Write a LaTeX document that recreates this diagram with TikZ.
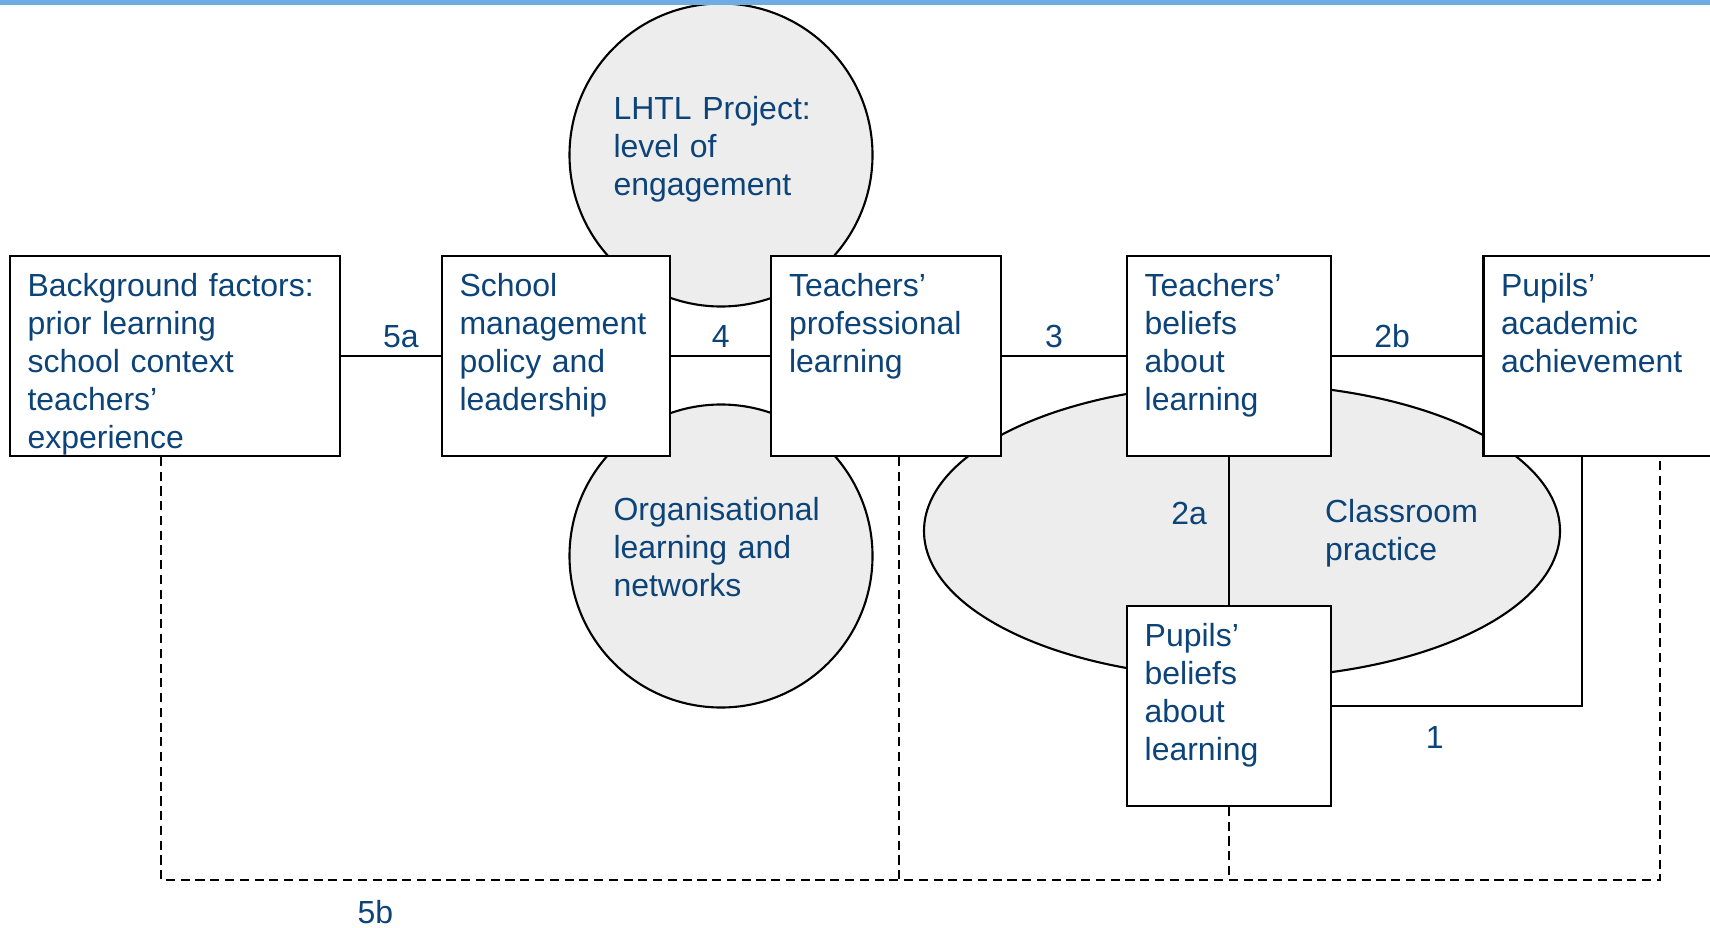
\documentclass[tikz,border=0pt]{standalone}
\usepackage{fontspec}
\setmainfont{Liberation Sans}
\usetikzlibrary{calc,shapes,positioning}
\definecolor{txtblue}{RGB}{12,67,120}
\definecolor{shapegray}{RGB}{237,237,237}
\definecolor{barblue}{RGB}{109,173,227}
\tikzset{
    block/.style = {draw, rectangle, fill=white, align=left,
        inner xsep=5pt, inner ysep=5pt,
        text height=6.6pt, text depth=40.2pt, text=txtblue},
    blob/.style = {draw, circle, fill=shapegray, minimum size=3.03cm,
        text width=2.15cm, text depth=27pt, align=left, text=txtblue},
    lbl/.style = {text=txtblue, inner sep=2pt},
    dashlink/.style = {draw, dash pattern=on 2.6pt off 1.6pt}
}

\begin{document}
\begin{tikzpicture}[node distance=2cm, line width=0.6pt, font=\fontsize{9.1pt}{10.8pt}\selectfont]
    \clip (0,0) rectangle (17.1,-9.27);
    \node [blob] (lhtl) at (7.21,-1.55) {LHTL Project:\\level of\\engagement};
    \node [blob] (org) at (7.21,-5.56) {Organisational\\learning and\\networks};
    \node [draw, ellipse, fill=shapegray, minimum width=6.36cm, minimum height=2.94cm] (cls) at (12.42,-5.31) {};
    \node [lbl, anchor=west, align=left, inner sep=0pt] (clstext) at ($(cls.center)+(0.82,-0.02)$) {Classroom\\practice};
    \node [block, text width=83.9pt] (bg) at (1.75,-3.56) {Background factors:\\prior learning\\school context\\teachers’\\experience};
    \node [block, text width=54.9pt, right of=bg, node distance=3.81cm] (school) {School\\management\\policy and\\leadership};
    \node [block, text width=55.2pt, right of=school, node distance=3.30cm] (tpl) {Teachers’\\professional\\learning};
    \node [block, text width=48.0pt, right of=tpl, node distance=3.43cm] (tbl) {Teachers’\\beliefs\\about\\learning};
    \node [block, text width=56.9pt, right of=tbl, node distance=3.72cm] (paa) {Pupils’\\academic\\achievement};
    \node [block, text width=48.0pt, below of=tbl, node distance=3.50cm] (pbl) {Pupils’\\beliefs\\about\\learning};
    \draw (bg) -- node[lbl, above, pos=0.6] (l5a) {5a} (school);
    \draw (school) -- node[lbl, above] (l4) {4} (tpl);
    \draw (tpl) -- node[lbl, above, pos=0.42] (l3) {3} (tbl);
    \draw (tbl) -- node[lbl, above, pos=0.4] (l2b) {2b} (paa);
    \draw (tbl) -- node[lbl, left=4pt, pos=0.38] (l2a) {2a} (pbl);
    \coordinate (c1) at ($(paa.south west)+(1.0,0)$);
    \draw (pbl.east) -- node[lbl, below=3.5pt, pos=0.41] (l1) {1} (pbl.east -| c1) -- (c1);
    \coordinate (d1) at ($(bg.south)+(-0.14,0)$);
    \coordinate (d2) at ($(tpl.south)+(0.13,0)$);
    \coordinate (d4) at ($(paa.south west)+(1.78,0)$);
    \coordinate (base) at (0,-8.80);
    \draw [dashlink] (d1) -- (d1 |- base) -- node[lbl, below=3.5pt, pos=0.143] (l5b) {5b} (d4 |- base) -- (d4);
    \draw [dashlink] (d2) -- (d2 |- base);
    \draw [dashlink] (pbl) -- (pbl |- base);
    \fill [barblue] (0,0) rectangle (17.1,-0.05);
\end{tikzpicture}
\end{document}
